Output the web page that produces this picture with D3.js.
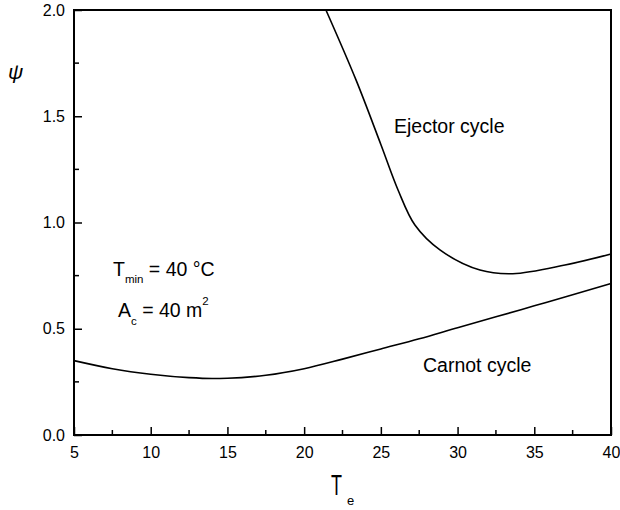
<!DOCTYPE html>
<html>
<head>
<meta charset="utf-8">
<script src="https://cdn.jsdelivr.net/npm/d3@7"></script>
<style>
  body { margin: 0; background: #fff; }
  text { font-family: "Liberation Sans", Arial, sans-serif; fill: #000; }
</style>
</head>
<body>
<svg id="chart" width="620" height="510"></svg>
<script>
// evaporator temperature Te (°C) and psi values
var carnotT   = [5, 7.5, 10, 12.5, 14, 15, 17.5, 20, 22.5, 25, 27.5, 30, 32.5, 35, 37.5, 40];
var carnotPsi = [0.350, 0.312, 0.286, 0.270, 0.266, 0.267, 0.281, 0.312, 0.357, 0.405, 0.453, 0.505, 0.556, 0.608, 0.660, 0.713];

var ejectorT   = [21.42, 23.38, 25.0, 26.12, 27.22, 28.85, 31.46, 33.6, 37.0, 40];
var ejectorPsi = [2.0, 1.671, 1.367, 1.153, 0.988, 0.871, 0.776, 0.759, 0.800, 0.852];

var xTicks = [5, 10, 15, 20, 25, 30, 35, 40];
var yTicks = [0.0, 0.5, 1.0, 1.5, 2.0];

var margin = {top: 10, right: 9, bottom: 75, left: 74},
    width = 620 - margin.left - margin.right,
    height = 510 - margin.top - margin.bottom;

var svg = d3.select("#chart")
  .append("g")
    .attr("transform", "translate(" + margin.left + "," + margin.top + ")");

var x = d3.scaleLinear().domain([5, 40]).range([0, width]);
var y = d3.scaleLinear().domain([0, 2]).range([height, 0]);

// minor ticks (inward)
var xMinor = d3.range(7.5, 40, 5);
var yMinor = d3.range(0.25, 2, 0.5);

svg.selectAll(".xminor").data(xMinor).enter().append("line")
  .attr("x1", d => x(d)).attr("x2", d => x(d))
  .attr("y1", height).attr("y2", height - 5)
  .attr("stroke", "#000").attr("stroke-width", 1.5);

svg.selectAll(".yminor").data(yMinor).enter().append("line")
  .attr("x1", 0).attr("x2", 5)
  .attr("y1", d => y(d)).attr("y2", d => y(d))
  .attr("stroke", "#000").attr("stroke-width", 1.5);

// major axes with inward ticks
var xAxis = svg.append("g")
  .attr("transform", "translate(0," + height + ")")
  .call(d3.axisBottom(x).tickValues(xTicks).tickSizeInner(-8).tickSizeOuter(0).tickPadding(12));
xAxis.select(".domain").remove();
xAxis.selectAll("line").attr("stroke-width", 1.5);
xAxis.selectAll("text").style("font-size", "16px").style("font-family", "Liberation Sans, Arial, sans-serif");

var yAxis = svg.append("g")
  .call(d3.axisLeft(y).tickValues(yTicks).tickFormat(d3.format(".1f")).tickSizeInner(-8).tickSizeOuter(0).tickPadding(9));
yAxis.select(".domain").remove();
yAxis.selectAll("line").attr("stroke-width", 1.5);
yAxis.selectAll("text").style("font-size", "16px").style("font-family", "Liberation Sans, Arial, sans-serif");

// frame
svg.append("rect")
  .attr("x", 0).attr("y", 0)
  .attr("width", width).attr("height", height)
  .attr("fill", "none").attr("stroke", "#000").attr("stroke-width", 2);

// curves
var carnotLine = d3.line()
  .x(d => x(d[0]))
  .y(d => y(d[1]))
  .curve(d3.curveMonotoneX);

var ejectorLine = d3.line()
  .x(d => x(d[0]))
  .y(d => y(d[1]))
  .curve(d3.curveCatmullRom.alpha(0.5));

svg.append("path")
  .datum(carnotT.map((t, i) => [t, carnotPsi[i]]))
  .attr("d", carnotLine)
  .attr("fill", "none").attr("stroke", "#000").attr("stroke-width", 1.6);

svg.append("path")
  .datum(ejectorT.map((t, i) => [t, ejectorPsi[i]]))
  .attr("d", ejectorLine)
  .attr("fill", "none").attr("stroke", "#000").attr("stroke-width", 1.6);

// labels
var root = d3.select("#chart");

root.append("text")
  .attr("x", 8).attr("y", 79)
  .style("font-size", "21px").style("font-style", "italic")
  .text("ψ");

root.append("text").attr("transform", "translate(331,495) scale(0.62,1)").style("font-size", "29px").text("T");
root.append("text").attr("x", 347).attr("y", 505).style("font-size", "13px").text("e");

root.append("text").attr("x", 394).attr("y", 133).style("font-size", "19.5px").text("Ejector cycle");
root.append("text").attr("x", 423).attr("y", 372).style("font-size", "19.5px").text("Carnot cycle");

var t1 = root.append("text").attr("x", 113).attr("y", 276).style("font-size", "19.5px");
t1.append("tspan").text("T");
t1.append("tspan").attr("dy", 7).style("font-size", "11.5px").text("min");
t1.append("tspan").attr("dy", -7).text(" = 40 °C");

var t2 = root.append("text").attr("x", 118).attr("y", 317).style("font-size", "19.5px");
t2.append("tspan").text("A");
t2.append("tspan").attr("dy", 8).style("font-size", "11.5px").text("c");
t2.append("tspan").attr("dy", -8).text(" = 40 m");
t2.append("tspan").attr("dy", -12).style("font-size", "11.5px").text("2");
</script>
</body>
</html>
